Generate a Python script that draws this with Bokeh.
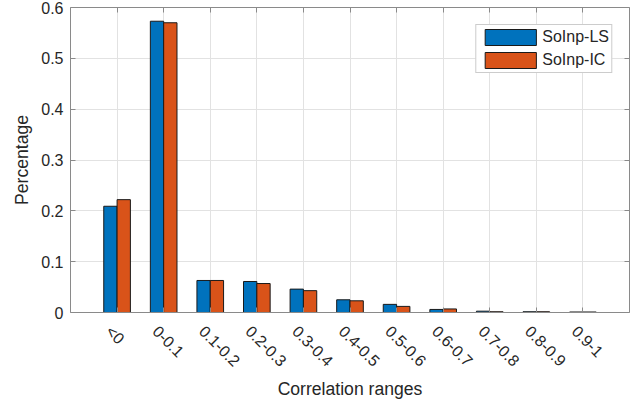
import numpy as np
from bokeh.plotting import figure
from bokeh.models import (Range1d, FixedTicker, LinearAxis, Legend, LegendItem,
                          CustomJSTickFormatter, CustomLabelingPolicy, ColumnDataSource)
from bokeh.embed import file_html
from bokeh.resources import INLINE

# Share of pairs falling into each correlation range
categories = ["<0", "0-0.1", "0.1-0.2", "0.2-0.3", "0.3-0.4", "0.4-0.5",
              "0.5-0.6", "0.6-0.7", "0.7-0.8", "0.8-0.9", "0.9-1"]
soinp_ls = [0.209, 0.573, 0.063, 0.061, 0.046, 0.025, 0.016, 0.006, 0.0026, 0.0015, 0.001]
soinp_ic = [0.222, 0.570, 0.063, 0.057, 0.043, 0.023, 0.012, 0.007, 0.0015, 0.0015, 0.001]
y_ticks = [0, 0.1, 0.2, 0.3, 0.4, 0.5, 0.6]

FONT = "Liberation Sans"
AXIS_COLOR = "#8a8a8a"
TEXT_COLOR = "#262626"
GRID_COLOR = "#e2e2e2"
BLUE = "#0072BD"
ORANGE = "#D95319"

pos = np.arange(1, len(categories) + 1)
bar_w = 0.286

p = figure(width=637, height=403, x_range=Range1d(0, 12), y_range=Range1d(0, 0.6),
           output_backend="svg", toolbar_location=None,
           min_border_left=70, min_border_right=8, min_border_top=7, min_border_bottom=91)
p.outline_line_color = None
p.background_fill_color = "white"
p.border_fill_color = "white"

src = ColumnDataSource(dict(x_ls=pos - bar_w / 2, x_ic=pos + bar_w / 2,
                            ls=soinp_ls, ic=soinp_ic))
r_ls = p.vbar(x="x_ls", top="ls", bottom=0, width=bar_w, source=src,
              fill_color=BLUE, line_color="#1a1a1a", line_width=1)
r_ic = p.vbar(x="x_ic", top="ic", bottom=0, width=bar_w, source=src,
              fill_color=ORANGE, line_color="#1a1a1a", line_width=1)

# grid
p.xgrid.ticker = FixedTicker(ticks=list(pos))
p.ygrid.ticker = FixedTicker(ticks=y_ticks)
for g in (p.xgrid, p.ygrid):
    g.grid_line_color = GRID_COLOR
    g.grid_line_width = 1

# axes that only draw the box edge and inward ticks, without labels
no_labels = CustomLabelingPolicy(code="for (const i of indices) { if (i < 0) yield i }")

def style_box_axis(ax):
    ax.axis_line_color = AXIS_COLOR
    ax.axis_line_width = 1
    ax.major_tick_line_color = AXIS_COLOR
    ax.major_tick_in = 5
    ax.major_tick_out = 0
    ax.minor_tick_line_color = None

def hide_labels(ax):
    ax.major_label_policy = no_labels
    ax.major_label_text_font_size = "0px"
    ax.major_label_standoff = 0
    ax.axis_label = None

xa = p.xaxis[0]
xa.ticker = FixedTicker(ticks=list(pos))
style_box_axis(xa)
hide_labels(xa)

# category labels, rotated, on their own axis below
shift = 0.18
lab_axis = LinearAxis(ticker=FixedTicker(ticks=list(pos - shift)),
                      formatter=CustomJSTickFormatter(
                          args=dict(labels=categories, shift=shift),
                          code="const i = Math.round(tick + shift) - 1; return (i >= 0 && i < labels.length) ? labels[i] : '';"))
lab_axis.axis_line_color = None
lab_axis.major_tick_line_color = None
lab_axis.minor_tick_line_color = None
lab_axis.major_tick_in = 0
lab_axis.major_tick_out = 0
lab_axis.major_label_standoff = 16
lab_axis.major_label_orientation = -np.pi / 4
lab_axis.major_label_text_font = FONT
lab_axis.major_label_text_font_size = "16px"
lab_axis.major_label_text_color = TEXT_COLOR
lab_axis.axis_label = "Correlation ranges"
lab_axis.axis_label_text_font = FONT
lab_axis.axis_label_text_font_size = "17.6px"
lab_axis.axis_label_text_font_style = "normal"
lab_axis.axis_label_text_color = TEXT_COLOR
lab_axis.axis_label_standoff = 0
p.add_layout(lab_axis, "below")

# left axis
ya = p.yaxis[0]
ya.ticker = FixedTicker(ticks=y_ticks)
style_box_axis(ya)
ya.formatter = CustomJSTickFormatter(code="return tick == 0 ? '0' : tick.toFixed(1);")
ya.major_label_standoff = 7
ya.major_label_text_font = FONT
ya.major_label_text_font_size = "16px"
ya.major_label_text_color = TEXT_COLOR
ya.axis_label = "Percentage"
ya.axis_label_text_font = FONT
ya.axis_label_text_font_size = "17.6px"
ya.axis_label_text_font_style = "normal"
ya.axis_label_text_color = TEXT_COLOR
ya.axis_label_standoff = 6

# top and right edges of the box, with inward ticks
top_axis = LinearAxis(ticker=FixedTicker(ticks=list(pos)))
right_axis = LinearAxis(ticker=FixedTicker(ticks=y_ticks))
for ax in (top_axis, right_axis):
    style_box_axis(ax)
    hide_labels(ax)
p.add_layout(top_axis, "above")
p.add_layout(right_axis, "right")

legend = Legend(items=[LegendItem(label="SoInp-LS", renderers=[r_ls]),
                       LegendItem(label="SoInp-IC", renderers=[r_ic])],
                location="top_right", margin=17, padding=2, spacing=3,
                glyph_width=64, glyph_height=20, label_height=20, label_standoff=-5,
                label_text_font=FONT, label_text_font_size="16px",
                label_text_color=TEXT_COLOR,
                border_line_color="#9a9a9a", border_line_width=1,
                background_fill_color="white", background_fill_alpha=1)
p.add_layout(legend)

open("out.html", "w").write(file_html(p, INLINE))
